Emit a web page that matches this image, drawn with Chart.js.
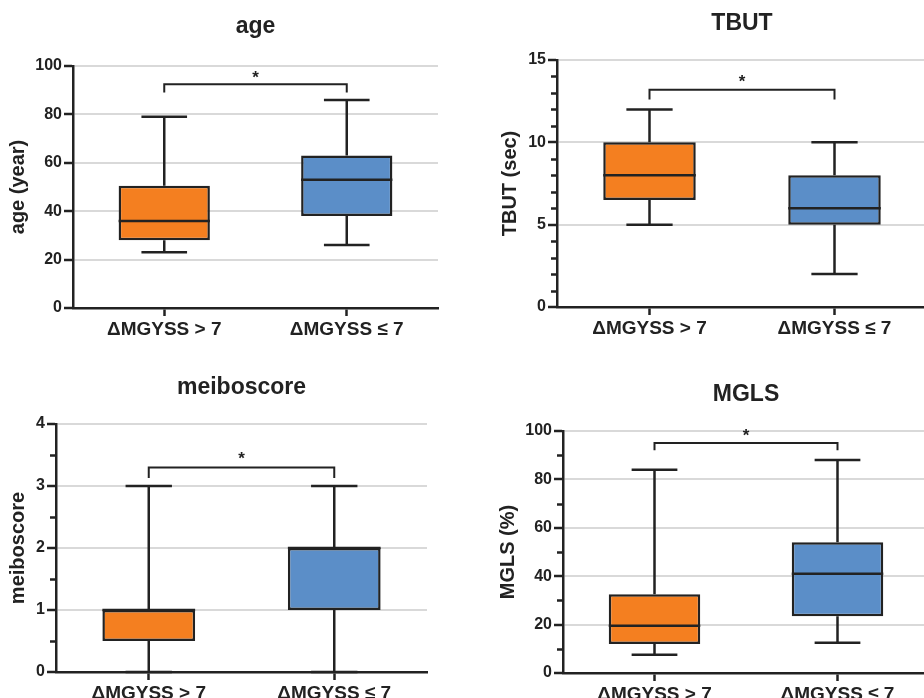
<!DOCTYPE html>
<html>
<head>
<meta charset="utf-8">
<script src="https://cdn.jsdelivr.net/npm/chart.js@4"></script>
<style>
  html, body { margin: 0; padding: 0; background: #fff; overflow: hidden; width: 924px; height: 698px; position: relative; }
  canvas { position: absolute; }
</style>
</head>
<body>
<canvas id="cAge" width="462" height="345" style="left:0;top:0"></canvas>
<canvas id="cTbut" width="470" height="345" style="left:462px;top:0"></canvas>
<canvas id="cMeibo" width="462" height="338" style="left:0;top:360px"></canvas>
<canvas id="cMgls" width="470" height="338" style="left:462px;top:360px"></canvas>
<script>
// groups and colours
var groups = ['ΔMGYSS > 7', 'ΔMGYSS ≤ 7'];
var boxColors = ['#F47F20', '#5B8EC8'];

// age (year)
var ageMin = [23, 26];
var ageQ1 = [28, 38];
var ageMedian = [36, 53];
var ageQ3 = [50.5, 63];
var ageMax = [79, 86];

// TBUT (sec)
var tbutMin = [5, 2];
var tbutQ1 = [6.5, 5];
var tbutMedian = [8, 6];
var tbutQ3 = [10, 8];
var tbutMax = [12, 10];

// meiboscore
var meiboMin = [0, 0];
var meiboQ1 = [0.5, 1];
var meiboMedian = [1, 2];
var meiboQ3 = [1, 2];
var meiboMax = [3, 3];

// MGLS (%)
var mglsMin = [7.5, 12.5];
var mglsQ1 = [12, 23.5];
var mglsMedian = [19.5, 41];
var mglsQ3 = [32.5, 54];
var mglsMax = [84, 88];

// significance brackets: [bar level, leg end, star level]
var ageBracket = [92.5, 89, 96];
var tbutBracket = [13.2, 12.6, 13.8];
var meiboBracket = [3.3, 3.13, 3.48];
var mglsBracket = [95, 92, 99];

var ink = '#222222';
var font = 'Liberation Sans, Arial, Helvetica, sans-serif';

var boxExtras = {
  id: 'boxExtras',
  afterDatasetsDraw: function (chart) {
    var ctx = chart.ctx;
    var y = chart.scales.y;
    var ds = chart.data.datasets[0];
    var meta = chart.getDatasetMeta(0);
    var o = chart.options.plugins.boxExtras;
    ctx.save();
    ctx.strokeStyle = ink;
    ctx.lineWidth = 2.5;
    ctx.beginPath();
    meta.data.forEach(function (bar, i) {
      var half = bar.width / 2, cap = bar.width / 4;
      var yMin = y.getPixelForValue(ds.whiskerMin[i]);
      var yMax = y.getPixelForValue(ds.whiskerMax[i]);
      var yQ1 = y.getPixelForValue(ds.data[i][0]);
      var yQ3 = y.getPixelForValue(ds.data[i][1]);
      var yMed = y.getPixelForValue(ds.median[i]);
      ctx.moveTo(bar.x, yQ1); ctx.lineTo(bar.x, yMin);
      ctx.moveTo(bar.x - cap, yMin); ctx.lineTo(bar.x + cap, yMin);
      ctx.moveTo(bar.x, yQ3); ctx.lineTo(bar.x, yMax);
      ctx.moveTo(bar.x - cap, yMax); ctx.lineTo(bar.x + cap, yMax);
      ctx.moveTo(bar.x - half, yMed); ctx.lineTo(bar.x + half, yMed);
    });
    ctx.stroke();

    // minor ticks on the y axis
    if (o.minor) {
      ctx.beginPath();
      var left = chart.chartArea.left;
      for (var v = 0; v <= y.max + 1e-9; v += o.minor) {
        if (Math.abs(v / o.major - Math.round(v / o.major)) < 1e-6) continue;
        var py = Math.round(y.getPixelForValue(v)) + 0.5;
        ctx.moveTo(left - 6, py); ctx.lineTo(left, py);
      }
      ctx.stroke();
    }

    // significance bracket
    var x1 = meta.data[0].x, x2 = meta.data[1].x;
    var by = y.getPixelForValue(o.bracket[0]);
    var ly = y.getPixelForValue(o.bracket[1]);
    ctx.lineWidth = 2;
    ctx.beginPath();
    ctx.moveTo(x1, ly); ctx.lineTo(x1, by); ctx.lineTo(x2, by); ctx.lineTo(x2, ly);
    ctx.stroke();
    ctx.fillStyle = ink;
    ctx.font = 'bold 17px ' + font;
    ctx.textAlign = 'center';
    ctx.textBaseline = 'middle';
    ctx.fillText('*', (x1 + x2) / 2, y.getPixelForValue(o.bracket[2]) + 3);

    // panel title
    var a = chart.chartArea;
    ctx.font = 'bold 23px ' + font;
    ctx.textBaseline = 'alphabetic';
    ctx.fillText(o.title, (a.left + a.right) / 2, o.titleY);
    ctx.restore();
  }
};

function makeBox(id, p) {
  var isMajor = function (v) { return Math.abs(v / p.major - Math.round(v / p.major)) < 1e-6; };
  return new Chart(document.getElementById(id), {
    type: 'bar',
    data: {
      labels: groups,
      datasets: [{
        data: groups.map(function (g, i) { return [p.q1[i], p.q3[i]]; }),
        whiskerMin: p.min,
        whiskerMax: p.max,
        median: p.median,
        backgroundColor: boxColors,
        borderColor: ink,
        borderWidth: 2.5,
        borderSkipped: false,
        barPercentage: 0.5,
        categoryPercentage: 1
      }]
    },
    options: {
      responsive: false,
      animation: false,
      layout: { padding: { left: 0, top: p.top, right: p.right, bottom: 0 } },
      plugins: {
        legend: { display: false },
        tooltip: { enabled: false },
        boxExtras: { title: p.title, titleY: p.titleY, bracket: p.bracket, minor: p.minor, major: p.major }
      },
      scales: {
        x: {
          afterFit: function (s) { s.height = p.xHeight; },
          grid: { offset: false, color: 'rgba(0,0,0,0)', tickColor: ink, tickLength: 8, tickWidth: 2.5 },
          border: { color: ink, width: 2.5 },
          ticks: { color: ink, font: { family: font, size: 19, weight: 'bold' }, padding: 2 }
        },
        y: {
          min: 0,
          max: p.yMax,
          afterFit: function (s) { s.width = p.yWidth; },
          grid: {
            color: function (c) { return c.tick && isMajor(c.tick.value) && c.tick.value > 0 ? '#d9d9d9' : 'rgba(0,0,0,0)'; },
            tickColor: function (c) { return c.tick && isMajor(c.tick.value) ? ink : 'rgba(0,0,0,0)'; },
            lineWidth: 2,
            tickLength: 9,
            tickWidth: 2.5
          },
          border: { color: ink, width: 2.5 },
          ticks: {
            stepSize: p.minor || p.major,
            autoSkip: false,
            color: ink,
            padding: 2,
            font: { family: font, size: 16, weight: 'bold' },
            callback: function (v) { return isMajor(v) ? String(Math.round(v)) : ''; }
          },
          title: {
            display: true,
            text: p.yTitle,
            color: ink,
            font: { family: font, size: 20, weight: 'bold' },
            padding: { top: p.yTitlePad, bottom: 0 }
          }
        }
      }
    },
    plugins: [boxExtras]
  });
}

makeBox('cAge', {
  title: 'age', yTitle: 'age (year)', titleY: 33,
  min: ageMin, q1: ageQ1, median: ageMedian, q3: ageQ3, max: ageMax, bracket: ageBracket,
  yMax: 100, major: 20, minor: 0,
  top: 66, right: 24, yWidth: 73, xHeight: 37, yTitlePad: 6
});
makeBox('cTbut', {
  title: 'TBUT', yTitle: 'TBUT (sec)', titleY: 30,
  min: tbutMin, q1: tbutQ1, median: tbutMedian, q3: tbutQ3, max: tbutMax, bracket: tbutBracket,
  yMax: 15, major: 5, minor: 1,
  top: 60, right: 5, yWidth: 95, xHeight: 38, yTitlePad: 36
});
makeBox('cMeibo', {
  title: 'meiboscore', yTitle: 'meiboscore', titleY: 34,
  min: meiboMin, q1: meiboQ1, median: meiboMedian, q3: meiboQ3, max: meiboMax, bracket: meiboBracket,
  yMax: 4, major: 1, minor: 0.5,
  top: 64, right: 35, yWidth: 56, xHeight: 26, yTitlePad: 6
});
makeBox('cMgls', {
  title: 'MGLS', yTitle: 'MGLS (%)', titleY: 41,
  min: mglsMin, q1: mglsQ1, median: mglsMedian, q3: mglsQ3, max: mglsMax, bracket: mglsBracket,
  yMax: 100, major: 20, minor: 10,
  top: 71, right: 3, yWidth: 101, xHeight: 25, yTitlePad: 34
});
</script>
</body>
</html>
